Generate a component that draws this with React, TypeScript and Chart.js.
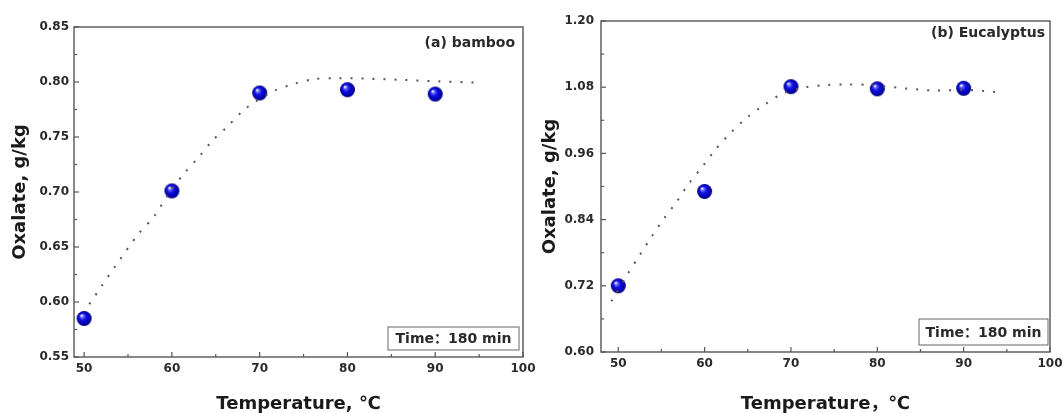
import React, { useEffect, useRef } from "react";
import { Chart, registerables } from "chart.js";

Chart.register(...registerables);

// ---------- data ----------
const temperatures = [50, 60, 70, 80, 90];
const bambooOxalate = [0.585, 0.701, 0.79, 0.793, 0.789];
const eucalyptusOxalate = [0.72, 0.891, 1.081, 1.077, 1.078];

const bambooFitT = [50.6, 52.0, 53.5, 56.2, 57.9, 59.65, 61.4, 63.1, 64.65, 66.4, 68.1, 69.3, 71.5, 73.8, 76.1, 78.5, 82.2, 86.0, 90.4, 94.65];
const bambooFitOxalate = [0.598, 0.6145, 0.632, 0.662, 0.677, 0.6985, 0.717, 0.732, 0.747, 0.76, 0.774, 0.781, 0.7915, 0.798, 0.8025, 0.8035, 0.803, 0.802, 0.8006, 0.7994];

const eucalyptusFitT = [49.2, 51.15, 52.5, 53.9, 55.3, 56.75, 58.2, 59.8, 61.3, 63.0, 64.9, 67.0, 69.1, 71.7, 74.1, 76.6, 79.2, 83.1, 86.7, 90.6, 94.5];
const eucalyptusFitOxalate = [0.692, 0.743, 0.776, 0.81, 0.842, 0.872, 0.906, 0.937, 0.968, 0.997, 1.025, 1.049, 1.069, 1.08, 1.084, 1.085, 1.084, 1.078, 1.074, 1.075, 1.07];

const xTicks = [50, 60, 70, 80, 90, 100];
const bambooYTicks = [0.55, 0.6, 0.65, 0.7, 0.75, 0.8, 0.85];
const eucalyptusYTicks = [0.6, 0.72, 0.84, 0.96, 1.08, 1.2];

const FONT = "'DejaVu Sans', 'Noto Sans CJK SC', sans-serif";

function makeSphere(r: number): HTMLCanvasElement {
  const c = document.createElement("canvas");
  const s = Math.ceil(r * 2) + 2;
  c.width = s;
  c.height = s;
  const g = c.getContext("2d")!;
  const cx = s / 2;
  const cy = s / 2;
  const grad = g.createRadialGradient(cx - r * 0.35, cy - r * 0.4, r * 0.05, cx, cy, r);
  grad.addColorStop(0, "#ffffff");
  grad.addColorStop(0.18, "#6a6aff");
  grad.addColorStop(0.45, "#1010e0");
  grad.addColorStop(0.85, "#0000a8");
  grad.addColorStop(1, "#000068");
  g.fillStyle = grad;
  g.beginPath();
  g.arc(cx, cy, r, 0, Math.PI * 2);
  g.fill();
  return c;
}

const framePlugin = {
  id: "frame",
  beforeDatasetsDraw(chart: any, _args: any, opts: any) {
    const { ctx, chartArea } = chart;
    const { left, right, top, bottom } = chartArea;
    const xs = chart.scales.x;
    const ys = chart.scales.y;
    ctx.save();
    ctx.strokeStyle = "#555";
    ctx.lineWidth = 1.4;
    ctx.strokeRect(left, top, right - left, bottom - top);
    ctx.lineWidth = 1.2;
    const line = (x1: number, y1: number, x2: number, y2: number) => {
      ctx.beginPath();
      ctx.moveTo(x1, y1);
      ctx.lineTo(x2, y2);
      ctx.stroke();
    };
    const xt = xs.ticks.map((t: any) => t.value);
    xt.forEach((v: number, i: number) => {
      const px = xs.getPixelForValue(v);
      line(px, bottom, px, bottom - 5);
      if (i < xt.length - 1) {
        const m = xs.getPixelForValue((v + xt[i + 1]) / 2);
        line(m, bottom, m, bottom - 3);
      }
    });
    const yt = ys.ticks.map((t: any) => t.value);
    yt.forEach((v: number, i: number) => {
      const py = ys.getPixelForValue(v);
      line(left, py, left + 5, py);
      if (i < yt.length - 1) {
        const m = ys.getPixelForValue((v + yt[i + 1]) / 2);
        line(left, m, left + 3, m);
      }
    });
    // panel label
    ctx.fillStyle = "#2a2a2a";
    ctx.font = `bold 14px ${FONT}`;
    ctx.textAlign = "right";
    ctx.textBaseline = "middle";
    ctx.fillText(opts.label, right - opts.labelDx, top + opts.labelDy);
    // time box
    const b = opts.box;
    ctx.lineWidth = 1;
    ctx.strokeStyle = "#666";
    ctx.strokeRect(right - b.fromRight, bottom - b.fromBottom, b.w, b.h);
    ctx.textAlign = "center";
    ctx.font = `bold 14px ${FONT}`;
    ctx.fillText(opts.boxText, right - b.fromRight + b.w / 2, bottom - b.fromBottom + b.h / 2 + 1);
    ctx.restore();
  },
};

type PanelProps = {
  canvasLeft: number;
  canvasWidth: number;
  padTop: number;
  padRight: number;
  yAxisWidth: number;
  xAxisHeight: number;
  xMin: number;
  xMax: number;
  yMin: number;
  yMax: number;
  yTicks: number[];
  pointsY: number[];
  fitT: number[];
  fitY: number[];
  xTitle: string;
  label: string;
  labelDx: number;
  labelDy: number;
  box: { fromRight: number; fromBottom: number; w: number; h: number };
  yPad: number;
};

function Panel(p: PanelProps) {
  const ref = useRef<HTMLCanvasElement>(null);
  useEffect(() => {
    const sphere = makeSphere(7.5);
    const chart = new Chart(ref.current!, {
      type: "line",
      data: {
        datasets: [
          {
            data: p.fitT.map((t, i) => ({ x: t, y: p.fitY[i] })),
            borderColor: "#555",
            borderWidth: 2,
            borderDash: [2, 9],
            pointRadius: 0,
            tension: 0.3,
            fill: false,
          },
          {
            data: temperatures.map((t, i) => ({ x: t, y: p.pointsY[i] })),
            showLine: false,
            pointStyle: sphere as any,
            pointRadius: 8,
            borderWidth: 0,
          },
        ],
      },
      plugins: [framePlugin as any],
      options: {
        animation: false,
        responsive: false,
        events: [],
        layout: { padding: { top: p.padTop, right: p.padRight, left: 0, bottom: 0 } },
        plugins: {
          legend: { display: false },
          tooltip: { enabled: false },
          frame: { label: p.label, labelDx: p.labelDx, labelDy: p.labelDy, box: p.box, boxText: "Time：180 min" },
        } as any,
        scales: {
          x: {
            type: "linear",
            min: p.xMin,
            max: p.xMax,
            afterBuildTicks: (s: any) => {
              s.ticks = xTicks.map((v) => ({ value: v }));
            },
            afterFit: (s: any) => {
              s.height = p.xAxisHeight;
            },
            grid: { display: false, drawTicks: false },
            border: { display: false },
            ticks: {
              padding: 5,
              color: "#2a2a2a",
              font: { family: FONT, weight: "bold", size: 12 },
              callback: (v: any) => String(v),
              maxRotation: 0,
            },
            title: {
              display: true,
              text: p.xTitle,
              color: "#1a1a1a",
              font: { family: FONT, weight: "bold", size: 18, lineHeight: 1 },
              padding: { top: 0, bottom: 0 },
            },
          },
          y: {
            type: "linear",
            min: p.yMin,
            max: p.yMax,
            afterBuildTicks: (s: any) => {
              s.ticks = p.yTicks.map((v) => ({ value: v }));
            },
            afterFit: (s: any) => {
              s.width = p.yAxisWidth;
            },
            grid: { display: false, drawTicks: false },
            border: { display: false },
            ticks: {
              padding: p.yPad,
              color: "#2a2a2a",
              font: { family: FONT, weight: "bold", size: 12 },
              callback: (v: any) => Number(v).toFixed(2),
            },
            title: {
              display: true,
              text: "Oxalate, g/kg",
              color: "#1a1a1a",
              font: { family: FONT, weight: "bold", size: 18, lineHeight: 1 },
              padding: { top: 11, bottom: 0 },
            },
          },
        },
      },
    });
    return () => chart.destroy();
  }, []);
  return (
    <div style={{ position: "absolute", left: p.canvasLeft, top: 0, width: p.canvasWidth, height: 413 }}>
      <canvas ref={ref} width={p.canvasWidth} height={413} style={{ width: p.canvasWidth, height: 413, display: "block" }} />
    </div>
  );
}

export default function App() {
  return (
    <div style={{ position: "fixed", left: 0, top: 0, width: 1063, height: 413, overflow: "hidden", background: "#fff" }}>
      <Panel
        canvasLeft={0}
        canvasWidth={545}
        padTop={27}
        padRight={22}
        yAxisWidth={74}
        xAxisHeight={56}
        xMin={48.85}
        xMax={100}
        yMin={0.55}
        yMax={0.85}
        yTicks={bambooYTicks}
        pointsY={bambooOxalate}
        fitT={bambooFitT}
        fitY={bambooFitOxalate}
        xTitle="Temperature, ℃"
        label="(a) bamboo"
        labelDx={8}
        labelDy={16}
        box={{ fromRight: 135, fromBottom: 30, w: 131, h: 23 }}
        yPad={5}
      />
      <Panel
        canvasLeft={530}
        canvasWidth={550}
        padTop={21}
        padRight={30}
        yAxisWidth={71}
        xAxisHeight={61}
        xMin={48}
        xMax={100}
        yMin={0.6}
        yMax={1.2}
        yTicks={eucalyptusYTicks}
        pointsY={eucalyptusOxalate}
        fitT={eucalyptusFitT}
        fitY={eucalyptusFitOxalate}
        xTitle="Temperature，℃"
        label="(b) Eucalyptus"
        labelDx={5}
        labelDy={12}
        box={{ fromRight: 131, fromBottom: 33, w: 129, h: 26 }}
        yPad={7}
      />
    </div>
  );
}
